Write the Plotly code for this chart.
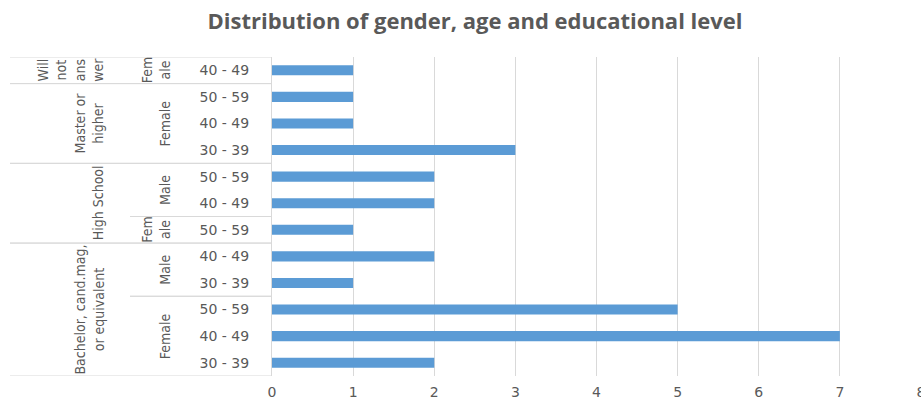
import plotly.graph_objects as go

# ---- data (bottom to top, as drawn) ----
education = ["Bachelor, cand.mag, or equivalent"] * 5 + ["High School"] * 3 + ["Master or higher"] * 3 + ["Will not answer"]
gender = ["Female", "Female", "Female", "Male", "Male", "Female", "Male", "Male", "Female", "Female", "Female", "Female"]
age = ["30 - 39", "40 - 49", "50 - 59", "30 - 39", "40 - 49", "50 - 59", "40 - 49", "50 - 59", "30 - 39", "40 - 49", "50 - 59", "40 - 49"]
counts = [2, 7, 5, 1, 2, 1, 2, 2, 3, 1, 1, 1]

# wrapped display text (as the axis wraps them)
edu_text = {
    "Bachelor, cand.mag, or equivalent": "Bachelor, cand.mag,<br>or equivalent",
    "High School": "High School",
    "Master or higher": "Master or<br>higher",
    "Will not answer": "Will<br>not<br>ans<br>wer",
}
gender_text_short = {"Female": "Fem<br>ale", "Male": "Ma<br>le"}

TITLE = "Distribution of gender, age and educational level"

# ---- styling ----
W, H = 921, 400
ML, MR, MT, MB = 272, 0, 57, 24
PW = W - ML - MR
GRAY = "#595959"
LINE = "#d9d9d9"
BAR = "#5b9bd5"
LABEL_FONT = "Liberation Sans Narrow, DejaVu Sans Condensed, sans-serif"
TICK_FONT = "DejaVu Sans, sans-serif"


def px_to_paper(px):
    return (px - ML) / PW


n = len(counts)
ypos = list(range(n))

fig = go.Figure(go.Bar(
    x=counts, y=ypos, orientation="h",
    marker=dict(color=BAR, line=dict(width=0)),
    width=0.38, hoverinfo="x+text", text=age, textposition="none",
))


def runs(keys):
    out = []
    start = 0
    for i in range(1, n + 1):
        if i == n or keys[i] != keys[start]:
            out.append((start, i - 1))
            start = i
    return out


shapes = []
annotations = []

edu_runs = runs(education)
gen_runs = runs([(e, g) for e, g in zip(education, gender)])

x_left = px_to_paper(10)
x_gen = px_to_paper(130)
x_axis = 0

# horizontal separators: full lines at education boundaries
for s, e in edu_runs:
    for yb in (s - 0.5, e + 0.5):
        shapes.append(dict(type="line", xref="paper", yref="y", x0=x_left, x1=x_axis,
                           y0=yb, y1=yb, line=dict(color=LINE, width=1)))
    annotations.append(dict(
        xref="paper", yref="y", x=px_to_paper(108), y=(s + e) / 2,
        text=edu_text[education[s]], textangle=-90, showarrow=False,
        xanchor="right", yanchor="middle",
        font=dict(family=LABEL_FONT, size=14, color=GRAY),
    ))

edu_bounds = set()
for s, e in edu_runs:
    edu_bounds.add(s - 0.5)
    edu_bounds.add(e + 0.5)

for s, e in gen_runs:
    for yb in (s - 0.5, e + 0.5):
        if yb not in edu_bounds:
            shapes.append(dict(type="line", xref="paper", yref="y", x0=x_gen, x1=x_axis,
                               y0=yb, y1=yb, line=dict(color=LINE, width=1)))
    g = gender[s]
    txt = gender_text_short[g] if s == e else g
    annotations.append(dict(
        xref="paper", yref="y", x=px_to_paper(175), y=(s + e) / 2,
        text=txt, textangle=-90, showarrow=False,
        xanchor="right", yanchor="middle",
        font=dict(family=LABEL_FONT, size=14, color=GRAY),
    ))

fig.update_layout(
    width=W, height=H,
    margin=dict(l=ML, r=MR, t=MT, b=MB, autoexpand=False),
    paper_bgcolor="white", plot_bgcolor="white",
    showlegend=False,
    title=dict(text=TITLE, x=475 / W, xref="container", xanchor="center",
               y=1 - 21 / H, yref="container", yanchor="middle",
               font=dict(family="Open Sans, sans-serif", size=22, color=GRAY, weight="bold")),
    xaxis=dict(range=[0, 8], dtick=1, tick0=0, showgrid=True, gridcolor=LINE, gridwidth=1,
               zeroline=False, showline=False, ticks="",
               tickfont=dict(family=TICK_FONT, size=14, color=GRAY),
               ticklabelstandoff=6, ticklabeloverflow="allow", fixedrange=True),
    yaxis=dict(range=[-0.5, n - 0.5], tickmode="array", tickvals=ypos, ticktext=age,
               showgrid=False, zeroline=False, showline=True, linecolor=LINE, linewidth=1,
               ticks="", ticklabelstandoff=19,
               tickfont=dict(family=TICK_FONT, size=14, color=GRAY), fixedrange=True),
    shapes=shapes,
    annotations=annotations,
    bargap=0.62,
)

fig.write_html("out.html")
